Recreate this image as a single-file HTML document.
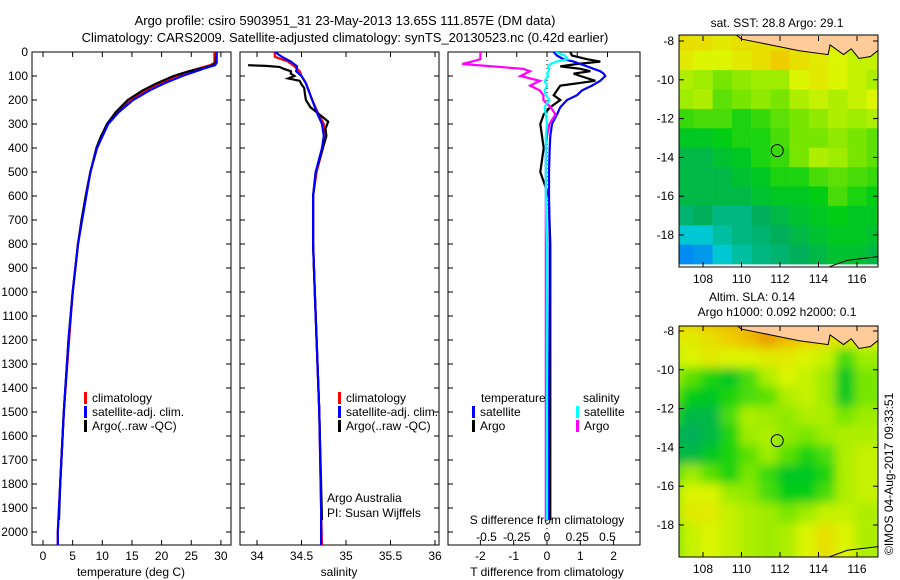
<!DOCTYPE html>
<html><head><meta charset="utf-8"><style>
body{margin:0;background:#fff}
svg{display:block;font-family:"Liberation Sans",sans-serif;font-size:12px}
</style></head><body>
<svg id="s" width="900" height="580" viewBox="0 0 900 580" xmlns="http://www.w3.org/2000/svg">
<defs>
<clipPath id="c1"><rect x="32" y="52" width="199" height="493"/></clipPath>
<clipPath id="c2"><rect x="240" y="52" width="199" height="493"/></clipPath>
<clipPath id="c3"><rect x="448" y="52" width="192" height="493"/></clipPath>
<clipPath id="m1"><rect x="679" y="35" width="199" height="232"/></clipPath>
<clipPath id="m2"><rect x="679" y="326" width="199" height="231"/></clipPath>
<filter id="blur"><feGaussianBlur stdDeviation="5"/></filter>
</defs>
<text x="345" y="25" text-anchor="middle" font-size="13">Argo profile: csiro 5903951_31 23-May-2013 13.65S 111.857E (DM data)</text>
<text x="345" y="42" text-anchor="middle" font-size="13">Climatology: CARS2009. Satellite-adjusted climatology: synTS_20130523.nc (0.42d earlier)</text>
<g id="g"></g>
</svg>
<script>
// ---- data ----
const depthTicks=[0,100,200,300,400,500,600,700,800,900,1000,1100,1200,1300,1400,1500,1600,1700,1800,1900,2000];
const tempTicks=[0,5,10,15,20,25,30];
const salTicks=[34,34.5,35,35.5,36];
const tdTicks=[-2,-1,0,1,2];
const sdTicks=[-0.5,-0.25,0,0.25,0.5];
const tDepth=[0,45,55,65,80,100,130,160,200,250,300,350,400,500,600,700,800,1000,1200,1500,1800,1950];
const tArgo=[29.2,29.1,28.6,27.3,24.6,22.0,19.2,16.8,14.3,12.3,10.8,9.8,9.0,8.0,7.2,6.5,5.9,5.0,4.3,3.5,2.9,2.7];
const tClimDepth=[0,45,55,70,100,130,160,200,250,300,400,500,600,800,1000,1200,1500,1800,2000,2060];
const tClim=[28.9,28.9,28.2,26.0,22.5,19.8,17.3,14.6,12.5,10.9,9.1,8.0,7.2,5.9,5.0,4.4,3.5,2.9,2.5,2.5];
const tSat=[29.3,29.3,29.0,27.0,23.5,20.5,18.0,15.2,12.8,11.0,9.1,8.0,7.3,5.9,5.0,4.3,3.5,2.9,2.5,2.5];
const sDepth=[55,58,62,70,80,90,100,110,120,135,150,180,200,230,260,290,320,350,400,500,600,800,1000,1500,1950];
const sArgo=[33.9,34.1,34.25,34.3,34.38,34.38,34.42,34.35,34.48,34.5,34.53,34.54,34.55,34.6,34.7,34.8,34.77,34.78,34.74,34.66,34.63,34.63,34.65,34.7,34.73];
const sClimDepth=[0,20,40,60,80,100,130,200,250,300,350,400,500,600,800,1000,1500,1900,2060];
const sClim=[34.2,34.2,34.35,34.42,34.48,34.5,34.55,34.62,34.68,34.75,34.76,34.74,34.67,34.63,34.63,34.65,34.7,34.72,34.73];
const sSat=[34.2,34.28,34.38,34.45,34.44,34.5,34.55,34.62,34.67,34.73,34.75,34.73,34.66,34.63,34.63,34.65,34.7,34.72,34.72];
const dDepth=[0,15,30,40,50,60,70,80,90,100,120,140,160,180,200,230,260,300,350,400,500,600,800,1000,1500,1950];
const tdArgo=[0.7,0.75,1.2,1.6,0.9,0.4,1.0,1.3,0.8,1.0,1.45,0.4,0.3,0.2,0.4,0.1,-0.1,-0.2,-0.15,-0.1,-0.2,0.05,0.1,0.1,0.1,0.1];
const tdSat=[0.2,0.3,0.5,0.8,1.0,1.2,1.4,1.6,1.7,1.75,1.6,1.35,1.05,0.9,0.6,0.4,0.3,0.15,0.1,0.08,0.06,0.06,0.08,0.08,0.06,0.05];
const sdArgo=[-0.55,-0.55,-0.55,-0.62,-0.7,-0.45,-0.2,-0.14,-0.18,-0.22,-0.06,-0.14,-0.06,-0.03,-0.03,0.03,0.07,0.02,0.0,-0.01,-0.01,-0.01,-0.01,-0.01,-0.01,-0.01];
const sdSat=[0.07,0.15,0.17,0.08,0.03,0.01,0.02,0.01,0.0,0.01,-0.02,0.0,-0.02,-0.01,0.02,-0.02,-0.01,0.0,-0.01,-0.01,-0.01,-0.01,0.0,0.0,0.0,0.0];
const mapLons=[107,108,109,110,111,112,113,114,115,116,117];
const mapLats=[-8,-9,-10,-11,-12,-13,-14,-15,-16,-17,-18,-19];
const lonTicks=[108,110,112,114,116];
const latTicks=[-8,-10,-12,-14,-16,-18];
const sstGrid=[
[0.82,0.82,0.8,0.82,0.82,0.82,0.85,0.82,0.8,0.75,0.72],
[0.8,0.78,0.78,0.8,0.82,0.85,0.82,0.8,0.78,0.75,0.75],
[0.72,0.7,0.65,0.68,0.7,0.7,0.78,0.8,0.78,0.75,0.72],
[0.7,0.72,0.62,0.65,0.68,0.65,0.72,0.75,0.72,0.75,0.78],
[0.58,0.6,0.6,0.55,0.58,0.62,0.65,0.68,0.72,0.7,0.72],
[0.5,0.5,0.52,0.55,0.55,0.6,0.65,0.65,0.68,0.65,0.62],
[0.45,0.45,0.48,0.5,0.55,0.58,0.65,0.72,0.7,0.65,0.62],
[0.45,0.45,0.45,0.48,0.5,0.55,0.55,0.6,0.62,0.6,0.58],
[0.45,0.45,0.45,0.45,0.48,0.5,0.5,0.52,0.6,0.55,0.52],
[0.4,0.42,0.38,0.38,0.42,0.45,0.48,0.5,0.52,0.5,0.5],
[0.3,0.3,0.35,0.38,0.4,0.42,0.45,0.48,0.5,0.5,0.48],
[0.2,0.22,0.3,0.35,0.38,0.4,0.42,0.45,0.48,0.48,0.45]];
const slaGrid=[
[0.85,0.85,0.88,0.9,0.9,0.9,0.9,0.88,0.85,0.85,0.85],
[0.8,0.8,0.82,0.85,0.88,0.92,0.88,0.85,0.82,0.8,0.78],
[0.75,0.78,0.8,0.78,0.78,0.8,0.8,0.78,0.75,0.6,0.7],
[0.7,0.62,0.55,0.5,0.6,0.72,0.78,0.75,0.7,0.5,0.65],
[0.62,0.52,0.5,0.55,0.6,0.62,0.72,0.75,0.7,0.5,0.65],
[0.55,0.45,0.45,0.6,0.72,0.7,0.68,0.72,0.72,0.65,0.7],
[0.45,0.42,0.45,0.55,0.7,0.72,0.68,0.65,0.7,0.72,0.72],
[0.45,0.45,0.5,0.55,0.62,0.7,0.62,0.55,0.6,0.72,0.75],
[0.6,0.7,0.62,0.55,0.65,0.58,0.5,0.5,0.55,0.72,0.75],
[0.7,0.78,0.78,0.7,0.68,0.6,0.52,0.52,0.6,0.72,0.75],
[0.7,0.8,0.8,0.75,0.72,0.7,0.65,0.7,0.75,0.75,0.72],
[0.65,0.75,0.78,0.75,0.72,0.7,0.72,0.78,0.82,0.78,0.72]];
const argoLon=111.857, argoLat=-13.65;

// ---- helpers ----
const NS="http://www.w3.org/2000/svg";
const G=document.getElementById('g');
function mk(tag,attrs,parent){const e=document.createElementNS(NS,tag);for(const k in attrs)e.setAttribute(k,attrs[k]);(parent||G).appendChild(e);return e;}
function txt(x,y,s,anchor,parent){const t=mk('text',{x:x,y:y,'text-anchor':anchor||'start'},parent);t.textContent=s;return t;}
const yD=d=>52+d*0.24;
const panels=[
 {x0:32,x1:231,clip:'c1',sx:v=>43+v*5.93},
 {x0:240,x1:439,clip:'c2',sx:v=>257+(v-34)*89},
 {x0:448,x1:640,clip:'c3',sx:v=>547+v*33.3}];
const sdx=v=>547+v*121;

depthTicks.forEach(d=>{const t=txt(28,yD(d)+4,String(d),'end');

});

panels.forEach((p,i)=>{
 const r=mk('rect',{x:p.x0,y:52,width:p.x1-p.x0,height:493,fill:'none',stroke:'#000','stroke-width':1});
 
 
 depthTicks.forEach(d=>{mk('line',{x1:p.x0,x2:p.x0+5,y1:yD(d),y2:yD(d),stroke:'#000'});mk('line',{x1:p.x1,x2:p.x1-5,y1:yD(d),y2:yD(d),stroke:'#000'});});
});
function xticks(p,ticks,sx,labelY,top){
 ticks.forEach(v=>{const x=sx(v);
  mk('line',{x1:x,x2:x,y1:545,y2:540,stroke:'#000'});
  if(top)mk('line',{x1:x,x2:x,y1:52,y2:57,stroke:'#000'});
  const t=txt(x,labelY,String(v),'middle');
  
  });
}
xticks(panels[0],tempTicks,panels[0].sx,560,true);
xticks(panels[1],salTicks,panels[1].sx,560,true);
xticks(panels[2],tdTicks,panels[2].sx,560,false);
sdTicks.forEach(v=>{mk('line',{x1:sdx(v),x2:sdx(v),y1:52,y2:57,stroke:'#000'});
 const t=txt(sdx(v),541,String(v),'middle');
 
 });
[['temperature (deg C)',131],['salinity',339],['T difference from climatology',547]].forEach(a=>{const t=txt(a[1],576,a[0],'middle');
 
 });
const st=txt(547,524,'S difference from climatology','middle');



function line(depths,vals,sx,color,clip,name,w){
 const pts=depths.map((d,i)=>sx(vals[i]).toFixed(1)+','+yD(d).toFixed(1)).join(' ');
 const e=mk('polyline',{points:pts,fill:'none',stroke:color,'stroke-width':w||2.2,'clip-path':'url(#'+clip+')'});
 
 
}
line(tClimDepth,tClim,panels[0].sx,'#f00','c1','temp-climatology-line');
line(tDepth,tArgo,panels[0].sx,'#000','c1','temp-argo-line');
line(tClimDepth,tSat,panels[0].sx,'#00f','c1','temp-satellite-line');
line(sClimDepth,sClim,panels[1].sx,'#f00','c2','sal-climatology-line');
line(sDepth,sArgo,panels[1].sx,'#000','c2','sal-argo-line');
line(sClimDepth,sSat,panels[1].sx,'#00f','c2','sal-satellite-line');
mk('line',{x1:547,x2:547,y1:52,y2:545,stroke:'#000','stroke-dasharray':'1,3'});
line(dDepth,tdArgo,panels[2].sx,'#000','c3','tdiff-argo-line');
line(dDepth,tdSat,panels[2].sx,'#00f','c3','tdiff-satellite-line');
line(dDepth,sdArgo,sdx,'#f0f','c3','sdiff-argo-line');
line(dDepth,sdSat,sdx,'#0ff','c3','sdiff-satellite-line');

function legend(x,y,color,label){
 mk('rect',{x:x,y:y-10,width:3,height:12,fill:color});
 const t=txt(x+8,y,label);
 
 
}
legend(84,402,'#f00','climatology');legend(84,416,'#00f','satellite-adj. clim.');legend(84,430,'#000','Argo(..raw -QC)');
legend(338,402,'#f00','climatology');legend(338,416,'#00f','satellite-adj. clim.');legend(338,430,'#000','Argo(..raw -QC)');
txt(481,402,'temperature');txt(583,402,'salinity');
legend(472,416,'#00f','satellite');legend(472,430,'#000','Argo');
legend(576,416,'#0ff','satellite');legend(576,430,'#f0f','Argo');
txt(327,502,'Argo Australia');txt(327,517,'PI: Susan Wijffels');

// ---- maps ----
const mx=lon=>703+(lon-108)*19.25;
function cmap(v){
 const stops=[[0,[0,0,140]],[0.15,[0,110,255]],[0.3,[0,200,210]],[0.42,[0,175,90]],[0.52,[0,205,20]],[0.65,[120,230,0]],[0.78,[220,245,0]],[0.86,[240,200,0]],[1,[225,110,0]]];
 for(let i=1;i<stops.length;i++){if(v<=stops[i][0]){const a=stops[i-1],b=stops[i],f=(v-a[0])/(b[0]-a[0]);
  return 'rgb('+a[1].map((c,j)=>Math.round(c+(b[1][j]-c)*f)).join(',')+')';}}
 return 'rgb(225,110,0)';
}
function drawMap(grid,y0,clip,name,blur){
 const my=lat=>y0+(-8-lat)*19.4;
 const g=mk('g',{'clip-path':'url(#'+clip+')'});
 
 
 const inner=mk('g',blur?{filter:'url(#blur)'}:{},g);
 mapLats.forEach((lat,r)=>mapLons.forEach((lon,c)=>{
  const cell=mk('rect',{x:mx(lon-0.5)-(blur?12:0),y:my(lat+0.5)-(blur?12:0),width:19.5+(blur?24:0),height:19.7+(blur?24:0),fill:cmap(grid[r][c])},inner);
  
  
 }));
 const land=mk('path',{d:'M'+mx(109.6)+','+(y0-8)+' L'+mx(110)+','+my(-7.9)+' L'+mx(111.5)+','+my(-8.2)+' L'+mx(113)+','+my(-8.5)+' L'+mx(114.5)+','+my(-8.7)+' L'+mx(114.6)+','+my(-8.2)+' L'+mx(115.3)+','+my(-8.7)+' L'+mx(115.7)+','+my(-8.4)+' L'+mx(116.1)+','+my(-8.9)+' L'+mx(116.7)+','+my(-8.8)+' L'+mx(117.2)+','+my(-8.4)+' L'+mx(117.2)+','+(y0-8)+' Z',fill:'#fc9',stroke:'#000','stroke-width':1},g);
 
 
 mk('path',{d:'M'+mx(114.4)+','+my(-19.7)+' L'+mx(115.5)+','+my(-19.3)+' L'+mx(117.2)+','+my(-19.1),fill:'none',stroke:'#000'},g);
 const fr=mk('rect',{x:679,y:(y0===41?35:326),width:199,height:(y0===41?232:231),fill:'none',stroke:'#000'});
 
 
 const yb=y0===41?267:557;
 latTicks.forEach(l=>{mk('line',{x1:679,x2:684,y1:my(l),y2:my(l),stroke:'#000'});mk('line',{x1:878,x2:873,y1:my(l),y2:my(l),stroke:'#000'});
  const t=txt(674,my(l)+4,String(l),'end');
  
  });
 lonTicks.forEach(l=>{mk('line',{x1:mx(l),x2:mx(l),y1:yb,y2:yb-5,stroke:'#000'});mk('line',{x1:mx(l),x2:mx(l),y1:yb-231,y2:yb-226,stroke:'#000'});
  const t=txt(mx(l),yb+16,String(l),'middle');
  
  });
 const c=mk('circle',{cx:mx(argoLon),cy:my(argoLat),r:6,fill:'none',stroke:'#000'});
 
 
}
drawMap(sstGrid,41,'m1','sst-map',false);
drawMap(slaGrid,331,'m2','sla-map',true);
txt(777,27,'sat. SST: 28.8 Argo: 29.1','middle');
txt(752,301,'Altim. SLA: 0.14','middle');
txt(777,316,'Argo h1000: 0.092 h2000: 0.1','middle');
const cr=txt(0,0,'©IMOS 04-Aug-2017 09:33:51');
cr.setAttribute('transform','translate(893,555) rotate(-90)');


</script>
</body></html>
